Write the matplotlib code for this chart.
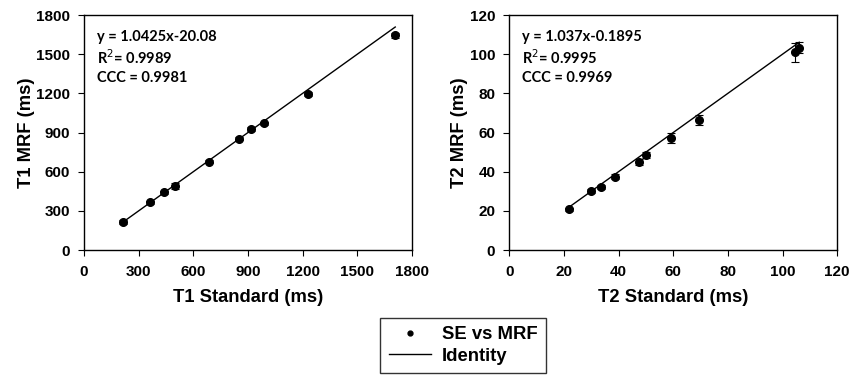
import matplotlib.pyplot as plt
from matplotlib.lines import Line2D

# T1 data (ms)
t1_std = [216, 364, 438, 498, 687, 848, 916, 989, 1229, 1708]
t1_mrf = [212, 365, 442, 490, 677, 853, 924, 970, 1192, 1644]
t1_err = [15, 12, 12, 20, 12, 12, 15, 12, 15, 22]

# T2 data (ms)
t2_std = [21.7, 29.9, 33.5, 38.7, 47.6, 49.9, 59.1, 69.5, 104.6, 106.1]
t2_mrf = [20.9, 30.0, 32.2, 37.4, 44.9, 48.7, 57.0, 66.4, 100.9, 103.3]
t2_err = [0.8, 1.0, 1.2, 1.2, 1.6, 1.6, 2.6, 2.6, 4.8, 2.8]

t1_text = ['y = 1.0425x-20.08', 'R$^2$= 0.9989', 'CCC = 0.9981']
t2_text = ['y = 1.037x-0.1895', 'R$^2$= 0.9995', 'CCC = 0.9969']

plt.rcParams['font.family'] = ['Liberation Sans', 'DejaVu Sans']

fig = plt.figure(figsize=(8.53, 3.78), dpi=100)
ax1 = fig.add_axes([0.0985, 0.3386, 0.3845, 0.6217])
ax2 = fig.add_axes([0.597, 0.3386, 0.3845, 0.6217])


def panel(ax, x, y, err, lim, step, xlabel, ylabel, text):
    ax.errorbar(x, y, yerr=err, fmt='o', color='black', markersize=5.5,
                elinewidth=0.8, capsize=3, capthick=0.8, zorder=3)
    ax.plot([min(x), max(x)], [min(x), max(x)], color='black', lw=1)
    ax.set_xlim(0, lim)
    ax.set_ylim(0, lim)
    ticks = list(range(0, lim + 1, step))
    ax.set_xticks(ticks)
    ax.set_yticks(ticks)
    ax.tick_params(direction='out', length=4, width=0.8, labelsize=11)
    ax.tick_params(axis='x', pad=7)
    ax.tick_params(axis='y', pad=6)
    for lab in ax.get_xticklabels() + ax.get_yticklabels():
        lab.set_fontweight('bold')
    for sp in ax.spines.values():
        sp.set_linewidth(1)
    ax.set_xlabel(xlabel, fontsize=13.2, fontweight='bold', labelpad=7)
    ax.set_ylabel(ylabel, fontsize=13.2, fontweight='bold', labelpad=1)
    for i, t in enumerate(text):
        ax.text(0.04, 0.905 - i * 0.087, t, transform=ax.transAxes,
                fontsize=10.5, fontweight='bold', va='center',
                family=['Lato', 'DejaVu Sans'])


panel(ax1, t1_std, t1_mrf, t1_err, 1800, 300,
      'T1 Standard (ms)', 'T1 MRF (ms)', t1_text)
panel(ax2, t2_std, t2_mrf, t2_err, 120, 20,
      'T2 Standard (ms)', 'T2 MRF (ms)', t2_text)

handles = [Line2D([], [], marker='o', ls='none', color='black', markersize=3.5),
           Line2D([], [], color='black', lw=1)]
leg = fig.legend(handles, ['SE vs MRF', 'Identity'], loc='center',
                 bbox_to_anchor=(0.543, 0.086), frameon=True, fancybox=False,
                 edgecolor='black', handlelength=2.3, handletextpad=0.6,
                 borderpad=0.45, labelspacing=0.22,
                 prop={'weight': 'bold', 'size': 13.3})
leg.get_frame().set_linewidth(1)

fig.savefig('out.png', dpi=100)
